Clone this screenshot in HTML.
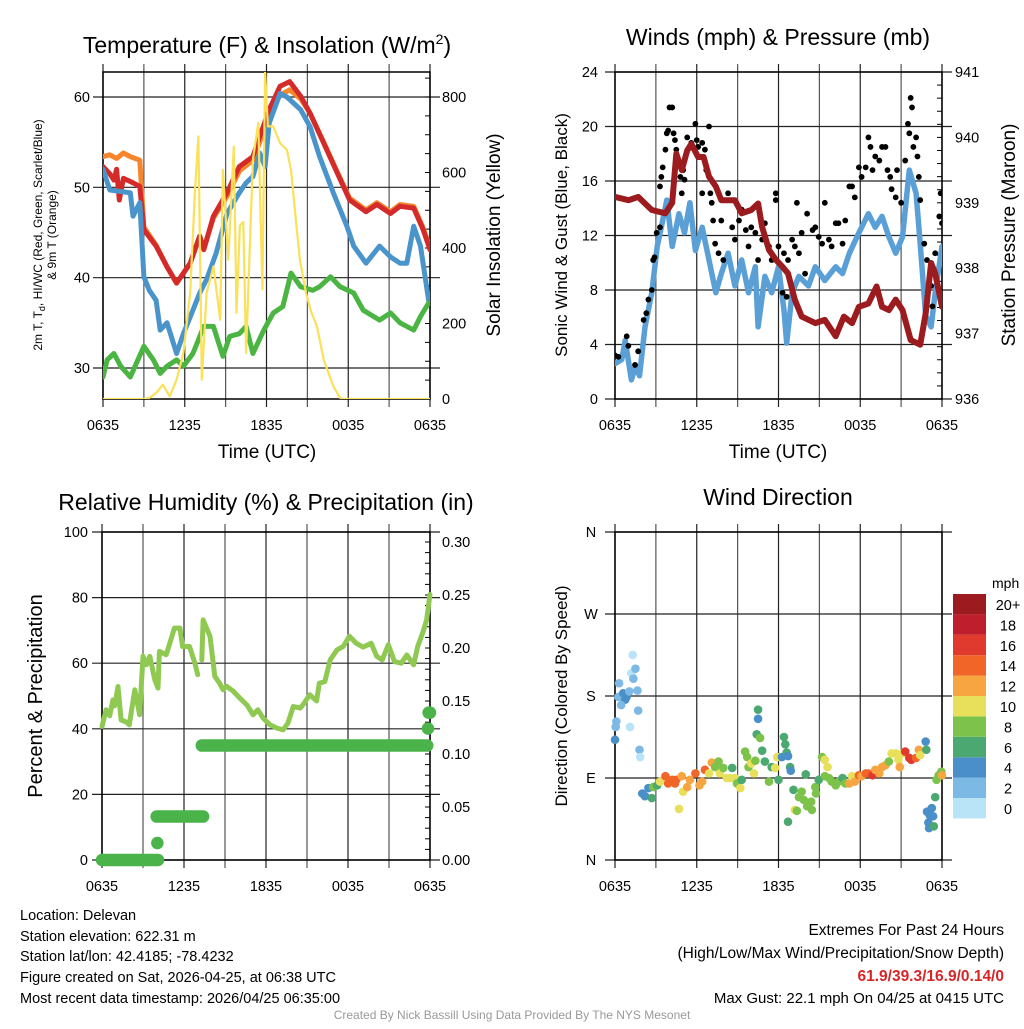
<!DOCTYPE html>
<html><head><meta charset="utf-8"><style>
body{margin:0;background:#fff;}
svg text{font-family:"Liberation Sans",Arial,sans-serif;fill:#000;}
</style></head><body>
<svg id="fig" xmlns="http://www.w3.org/2000/svg" width="1024" height="1024" viewBox="0 0 1024 1024">
<rect x="0" y="0" width="1024" height="1024" fill="#fff"/>
<g id="p1"></g>
<g id="p2"></g>
<g id="p3"></g>
<g id="p4"></g>

<text x="267" y="53" font-size="23" text-anchor="middle">Temperature (F) &amp; Insolation (W/m<tspan font-size="14" dy="-9">2</tspan><tspan dy="9">)</tspan></text>
<text x="778" y="45" font-size="23" text-anchor="middle">Winds (mph) &amp; Pressure (mb)</text>
<text x="266" y="510" font-size="23" text-anchor="middle">Relative Humidity (%) &amp; Precipitation (in)</text>
<text x="778" y="505" font-size="23" text-anchor="middle">Wind Direction</text>

<text x="267" y="458" font-size="19" text-anchor="middle">Time (UTC)</text>
<text x="778" y="458" font-size="19" text-anchor="middle">Time (UTC)</text>
<text transform="translate(42,235) rotate(-90)" font-size="12" text-anchor="middle">2m T, T<tspan font-size="9" dy="3">d</tspan><tspan dy="-3">, HI/WC (Red, Green, Scarlet/Blue)</tspan></text>
<text transform="translate(56,235) rotate(-90)" font-size="12" text-anchor="middle">&amp; 9m T (Orange)</text>
<text transform="translate(500,235) rotate(-90)" font-size="19" text-anchor="middle">Solar Insolation (Yellow)</text>
<text transform="translate(567,235) rotate(-90)" font-size="17" text-anchor="middle">Sonic Wind &amp; Gust (Blue, Black)</text>
<text transform="translate(1015,235) rotate(-90)" font-size="19" text-anchor="middle">Station Pressure (Maroon)</text>
<text transform="translate(42,696) rotate(-90)" font-size="20" text-anchor="middle">Percent &amp; Precipitation</text>
<text transform="translate(567,696) rotate(-90)" font-size="17" text-anchor="middle">Direction (Colored By Speed)</text>

<g font-size="14.5">
<text x="20" y="920">Location: Delevan</text>
<text x="20" y="941">Station elevation: 622.31 m</text>
<text x="20" y="961">Station lat/lon: 42.4185; -78.4232</text>
<text x="20" y="982">Figure created on Sat, 2026-04-25, at 06:38 UTC</text>
<text x="20" y="1003">Most recent data timestamp: 2026/04/25 06:35:00</text>
</g>
<g font-size="15.5" text-anchor="end">
<text x="1004" y="935">Extremes For Past 24 Hours</text>
<text x="1004" y="958">(High/Low/Max Wind/Precipitation/Snow Depth)</text>
<text x="1004" y="981" font-weight="bold" style="fill:#d62728">61.9/39.3/16.9/0.14/0</text>
<text x="1004" y="1003" font-size="15">Max Gust: 22.1 mph On 04/25 at 0415 UTC</text>
</g>
<text x="512" y="1019" font-size="12" text-anchor="middle" style="fill:#999">Created By Nick Bassill Using Data Provided By The NYS Mesonet</text>
</svg>
<script>
// ---- Panel 1 data ----
const redT=[0,0.5,0.8,1.0,1.2,1.5,2.2,2.7,3.0,3.9,4.7,5.4,6.4,7.1,7.4,8.1,9.1,10.0,11.0,11.5,12.2,13.0,13.7,14.5,15.2,16.2,17.1,18.1,19.3,20.1,21.1,21.8,22.8,23.5,24];
const redV=[52.3,51.5,50.8,52.0,48.6,51.0,50.5,50.1,45.3,43.5,41.2,39.4,41.6,44.6,43.1,46.8,49.4,52.3,53.4,55.6,58.6,61.2,61.7,60.1,58.2,54.9,51.9,48.6,47.3,48.1,47.1,47.9,47.7,45.3,43.1];
const orangeT=[0,0.5,1.0,1.5,2.0,2.7,3.0,3.9,4.7,5.4,6.4,7.1,7.4,8.1,9.1,10.0,11.0,11.5,12.2,13.0,13.7,14.5,15.2,16.2,17.1,18.1,19.3,20.1,21.1,21.8,22.8,23.5,24];
const orangeV=[53.4,53.6,53.2,53.8,53.4,53.0,45.6,43.6,41.2,39.4,41.6,44.6,43.2,46.6,49.0,51.8,53.0,55.0,58.0,60.2,60.8,59.8,58.2,55.0,52.0,48.8,47.5,48.3,47.3,48.1,47.9,45.5,43.3];
const blueT=[0,0.5,2.0,2.2,2.7,3.0,3.4,3.9,4.2,4.7,5.4,5.9,6.6,7.1,7.6,8.3,9.1,10.0,10.5,11.0,11.5,11.9,12.2,13.0,13.5,14.5,15.2,15.9,16.9,17.9,18.4,19.3,20.3,21.1,21.8,22.3,22.8,23.3,23.9];
const blueV=[52.0,49.7,49.4,46.8,48.3,40.1,38.6,37.5,34.2,35.0,31.6,33.8,36.4,38.3,39.8,42.7,47.1,49.4,50.5,51.2,53.8,52.3,57.1,60.4,60.0,58.6,56.7,53.4,49.4,45.7,43.5,41.6,43.5,42.3,41.6,41.6,45.7,43.5,37.5];
const greenT=[0,0.3,0.8,1.3,2.0,3.0,3.7,4.2,4.7,5.4,5.9,6.6,7.4,8.1,8.8,9.3,10.0,10.5,11.0,11.8,12.5,13.2,13.8,14.5,15.4,15.9,16.7,17.4,18.4,19.1,20.3,21.1,21.8,22.8,23.3,23.9];
const greenV=[29.0,30.9,31.6,30.2,29.0,32.4,30.9,29.4,30.2,30.9,30.2,31.6,34.6,34.6,31.3,33.5,33.8,34.6,31.6,34.2,36.1,36.8,40.5,39.0,38.6,39.0,40.1,39.0,38.3,36.4,35.3,36.1,35.0,34.2,35.7,37.2];
const solarT=[0,3.0,3.4,3.9,4.4,4.9,5.4,5.9,6.4,6.75,7.0,7.25,7.6,8.1,8.6,8.8,9.2,9.6,9.8,10.05,10.3,10.5,11.0,11.4,11.7,11.9,12.1,12.5,13.0,13.5,13.8,14.2,14.45,14.9,15.3,15.7,16.2,16.9,17.4,17.6,24];
const solarV=[0,0,3,16,38,7,51,122,281,554,696,51,281,351,210,607,369,669,228,460,469,122,634,731,290,868,722,722,678,660,607,457,369,281,228,193,104,34,3,0,0];
const p1Left=[30,40,50,60], p1Right=[0,200,400,600,800];
const timeLabels=["0635","1235","1835","0035","0635"];
// ---- Panel 2 data ----
const windT=[0,0.5,0.75,1.2,1.5,1.8,2.2,2.7,3.1,3.4,3.8,4.2,4.7,5.1,5.5,5.9,6.4,6.9,7.4,7.8,8.3,8.8,9.3,9.8,10.3,10.5,11.0,11.5,12.0,12.4,12.6,13.0,13.5,14.2,14.7,15.4,16.2,16.7,17.2,17.9,18.6,19.1,19.6,20.1,20.6,21.1,21.6,22.1,22.4,22.8,23.2,23.5,24];
const windV=[2.6,2.9,4.3,1.4,2.4,1.7,5.3,7.8,11.2,12.6,14.6,11.2,13.6,12.2,14.4,10.9,12.6,10.2,7.8,9.2,10.7,8.3,10.2,7.8,9.7,5.3,9.0,7.8,9.7,6.5,4.1,7.8,9.0,8.3,9.7,8.7,9.7,9.2,10.7,12.2,13.6,12.6,13.4,11.9,10.7,11.9,16.8,15.1,11.4,6.1,5.3,7.8,11.2];
const presT=[0,1.0,1.7,2.2,2.7,3.7,4.2,4.5,4.9,5.3,5.6,6.1,6.5,6.9,7.4,7.8,8.3,8.8,9.3,10.0,10.5,10.8,11.3,11.8,12.3,12.7,13.2,13.7,14.7,15.4,16.2,16.8,17.4,17.9,18.6,19.2,19.6,20.1,20.6,21.1,21.7,22.4,22.8,23.2,23.5,24];
const presV=[939.09,939.04,939.09,938.99,938.89,938.84,939.0,939.75,939.5,939.8,939.9,939.7,939.7,939.4,939.25,939.04,939.04,939.04,938.84,938.89,938.99,938.63,938.28,938.13,938.02,937.92,937.52,937.26,937.16,937.21,936.96,937.26,937.16,937.41,937.46,937.72,937.41,937.36,937.52,937.36,936.9,936.83,937.31,938.08,937.92,937.41];
const gustT=[0,0.25,0.86,0.98,1.47,1.7,2.1,2.3,2.45,2.7,2.8,2.9,3.06,3.3,3.3,3.4,3.5,3.7,3.8,3.9,4.0,4.2,4.3,4.4,4.5,4.8,4.9,5.0,5.1,5.3,5.6,5.9,6.0,6.1,6.4,6.6,6.9,6.7,6.4,7.0,7.1,7.2,7.35,7.6,7.8,7.95,8.3,8.6,8.8,9.1,9.3,9.6,9.8,10.0,10.3,10.5,10.8,11.0,11.3,11.5,11.8,11.8,12.0,12.3,12.4,12.6,12.7,13.0,13.2,13.35,13.5,13.7,13.95,14.1,14.5,14.7,14.95,15.2,15.4,15.7,15.9,16.2,16.4,16.7,16.9,17.2,17.4,17.6,17.9,18.1,18.4,18.6,18.75,18.9,19.1,19.4,19.6,19.85,20.0,20.2,20.3,20.6,20.7,21.0,21.3,21.5,21.6,21.7,21.8,21.9,22.1,22.2,22.3,22.4,22.7,22.9,23.2,23.3,23.5,23.8,23.9,24];
const gustV=[3.2,3.1,4.6,3.9,2.5,3.5,5.8,6.3,7.3,8.0,10.2,10.4,12.2,12.6,15.6,16.3,17.0,18.3,19.5,19.7,21.4,21.4,19.5,19.0,18.3,16.3,15.1,16.8,16.1,19.2,18.8,20.2,19.0,18.5,18.8,18.3,20.0,16.8,15.1,15.1,14.4,13.1,11.4,10.7,13.1,10.2,15.1,12.6,11.7,13.1,13.9,12.4,11.2,12.6,12.2,10.2,11.7,12.9,11.2,10.2,15.1,14.6,11.2,7.8,10.7,7.5,10.2,11.7,11.2,14.4,10.7,12.2,9.2,13.6,12.4,12.6,11.9,11.4,14.4,11.7,11.2,12.9,12.9,11.4,13.1,15.6,15.6,14.8,17.0,16.3,17.0,19.2,18.5,16.8,17.8,17.5,18.5,18.5,16.8,16.3,15.4,14.8,16.8,14.4,17.5,20.2,19.5,22.1,21.4,18.5,19.2,17.8,16.3,14.6,11.4,10.2,8.3,6.8,10.7,13.4,15.1,12.9];
const p2Left=[0,4,8,12,16,20,24], p2Right=[936,937,938,939,940,941];
// ---- Panel 3 data ----
const rhT=[0,0.3,0.56,0.8,0.93,1.17,1.4,1.8,2.0,2.4,2.75,3.0,3.25,3.5,3.86,4.1,4.2,4.7,4.96,5.3,5.7,5.9,6.4,6.8,7.0,null,7.3,7.4,7.9,8.25,8.6,8.86,9.1,9.6,10.1,10.6,11.05,11.4,11.8,12.3,12.8,13.25,13.6,14.0,14.5,14.7,15.2,15.7,15.9,16.3,16.7,17.2,17.65,18.1,18.6,19.1,19.7,20.1,20.5,20.95,21.4,21.9,22.3,22.8,23.1,23.5,23.75,24];
const rhV=[40.7,45.8,44.0,48.8,47.0,52.9,42.7,42.0,41.2,51.9,44.3,62.1,59.5,62.1,54.9,52.4,63.6,62.6,66.1,70.7,70.7,65.1,65.1,60.0,56.5,null,61.0,73.2,68.2,56.0,53.9,51.9,53.0,51.5,49.3,47.3,44.3,45.8,43.2,41.2,40.2,39.7,41.7,46.8,46.3,47.3,50.4,48.5,53.9,54.4,61.0,64.1,65.1,68.2,66.1,64.9,66.1,62.1,61.0,65.6,60.5,60.0,62.5,59.5,65.1,69.7,73.2,80.9];
const precipStart=[0,4.05,4.0,7.3,23.85,23.9];
const precipEnd=[4.1,4.05,7.4,23.8,23.85,24];
const precipVal=[0,0.016,0.041,0.108,0.124,0.139];
const p3Left=[0,20,40,60,80,100], p3Right=["0.00","0.05","0.10","0.15","0.20","0.25","0.30"];
// ---- Panel 4 data ----
const dirT=[0,0.05,0.1,0.3,0.25,0.5,0.6,0.75,0.85,0.45,1.05,1.2,1.3,1.35,1.5,1.65,1.7,1.1,1.8,1.85,2.0,2.2,2.45,2.7,2.8,3.1,3.3,3.7,3.9,4.2,4.4,4.5,4.7,4.9,5.0,5.3,5.5,5.9,6.2,6.4,6.6,6.9,7.1,7.35,7.6,7.7,7.95,8.2,8.45,8.6,8.8,8.95,9.2,9.3,9.55,9.7,9.8,10.0,10.2,10.3,10.5,10.5,10.4,10.65,10.8,11.0,11.3,11.5,11.75,11.9,12.0,12.25,12.4,12.5,12.6,12.7,12.85,12.9,12.7,13.1,13.2,13.35,13.5,13.7,13.85,14.0,14.1,14.4,14.45,14.7,14.75,14.95,15.2,15.4,15.6,15.4,15.7,15.9,16.2,16.4,16.7,16.9,17.2,17.4,17.6,17.9,18.1,18.4,18.6,18.9,19.1,19.4,19.6,19.85,20.1,20.3,20.6,20.8,20.9,21.1,21.3,21.6,21.75,22.1,22.3,22.4,22.8,22.85,22.9,23.1,23.25,23.0,23.05,23.35,23.4,23.5,23.6,23.75,23.95,24];
const dirV=[132,146,152,194,179,179,183,176,179,170,185,205,225,199,210,186,164,146,121,113,73,70,79,68,80,82,86,92,84,88,84,88,56,92,75,80,88,95,82,86,99,95,107,102,108,95,101,90,90,101,90,84,79,88,119,113,102,106,95,109,165,155,138,134,120,108,86,102,101,113,88,113,135,127,118,114,102,98,42,77,55,54,69,75,66,94,59,64,55,80,73,88,113,110,102,92,90,86,82,86,90,84,84,92,86,93,92,95,95,93,99,95,102,104,108,117,117,110,102,117,119,112,110,112,121,115,130,121,53,49,57,41,35,48,37,69,88,93,97,93];
const dirSpd=[4,3,3,3,3,3,4,4,4,3,2,1,0,2,2,2,2,1,2,1,4,4,4,7,8,7,10,14,14,15,15,14,10,12,10,12,12,15,12,13,15,11,12,9,8,10,8,10,10,7,11,8,10,7,8,8,8,10,10,8,6,4,6,8,6,6,8,6,10,10,6,4,6,6,6,4,6,4,6,6,10,8,8,8,8,6,8,8,8,8,8,6,8,10,10,8,8,8,8,8,6,8,12,10,12,14,12,14,15,16,13,12,12,12,9,10,10,10,12,10,16,17,16,15,13,10,4,6,4,4,4,4,4,4,6,6,8,8,8,12];
const speedColors=["#b9e3f7","#7cb9e5","#4a8fc8","#4aa870","#7dc24b","#e8e05a","#f7a541","#f26529","#e03a2e","#bf1e2d","#9b1b1e"];
const speedLabels=["0","2","4","6","8","10","12","14","16","18","20+"];
const dirLabels=["N","E","S","W","N"], dirTicks=[0,90,180,270,360];

const NS="http://www.w3.org/2000/svg";
function mk(parent,tag,attrs){const e=document.createElementNS(NS,tag);for(const k in attrs)e.setAttribute(k,attrs[k]);parent.appendChild(e);return e;}
function txt(parent,x,y,s,size,anchor){const e=mk(parent,"text",{x:x,y:y,"font-size":size,"text-anchor":anchor});e.textContent=s;return e;}
function tx(P,t){return P.x0+t/24*(P.x1-P.x0);}
function lin(d0,d1,r0,r1){return v=>r0+(v-d0)/(d1-d0)*(r1-r0);}
function frame(g,P,name){
  for(let i=0;i<=8;i++){const x=P.x0+i*(P.x1-P.x0)/8;
    const l=mk(g,"line",{x1:x,x2:x,y1:P.y0-8,y2:P.y1+8,stroke:i%2?"#555":"#222","stroke-width":1.2});
    
    
  }
  timeLabels.forEach((s,i)=>{const t=txt(g,P.x0+i*(P.x1-P.x0)/4,P.y1+31,s,14.5,"middle");
    
    });
}
function hgrid(g,P,y,name){const l=mk(g,"line",{x1:P.x0-10,x2:P.x1+10,y1:y,y2:y,stroke:"#222","stroke-width":1.2});
  
  }
function border(g,P){const r=mk(g,"rect",{x:P.x0,y:P.y0,width:P.x1-P.x0,height:P.y1-P.y0,fill:"none",stroke:"#000","stroke-width":1.5});
  
  }
function minor(g,P,ys){ys.forEach(y=>mk(g,"line",{x1:P.x1,x2:P.x1-5,y1:y,y2:y,stroke:"#000","stroke-width":1}));}
function path(g,T,V,P,ys,color,w,name){let d="",pen=false;
  for(let i=0;i<T.length;i++){if(T[i]===null||V[i]===null){pen=false;continue;}
    d+=(pen?"L":"M")+tx(P,T[i]).toFixed(1)+","+ys(V[i]).toFixed(1);pen=true;}
  const p=mk(g,"path",{d:d,fill:"none",stroke:color,"stroke-width":w,"stroke-linejoin":"round","stroke-linecap":"round"});
  
  return p;}

// Panel 1
(function(){const g=document.getElementById("p1");const P={x0:103,x1:430,y0:72,y1:399};
  const yl=lin(30,60,368,97), yr=lin(0,800,399,97);
  frame(g,P,"p1");
  p1Left.forEach(v=>{hgrid(g,P,yl(v),"p1-hgrid");const t=txt(g,90,yl(v)+5,String(v),14.5,"end");
    
    });
  p1Right.forEach(v=>{const t=txt(g,442,yr(v)+5,String(v),14.5,"start");
    
    });
  const m=[];for(let v=0;v<=875;v+=50)m.push(yr(v));minor(g,P,m);
  border(g,P);
  const cl=mk(g,"clipPath",{id:"c1"});mk(cl,"rect",{x:P.x0,y:P.y0,width:P.x1-P.x0,height:P.y1-P.y0});
  const gg=mk(g,"g",{"clip-path":"url(#c1)"});
  path(gg,orangeT,orangeV,P,yl,"#f5862e",5,"orange-9m-temp-line");
  path(gg,redT,redV,P,yl,"#d42a2a",5,"red-2m-temp-line");
  path(gg,blueT,blueV,P,yl,"#4a94cc",5,"blue-windchill-line");
  path(gg,greenT,greenV,P,yl,"#4bb543",5,"green-dewpoint-line");
  path(gg,solarT,solarV,P,yr,"#fbe05a",2.2,"yellow-insolation-line");
})();
// Panel 2
(function(){const g=document.getElementById("p2");const P={x0:615,x1:942,y0:72,y1:399};
  const yl=lin(0,24,399,72), yr=lin(936,941,399,72);
  frame(g,P,"p2");
  p2Left.forEach(v=>{hgrid(g,P,yl(v),"p2-hgrid");const t=txt(g,598,yl(v)+5,String(v),14.5,"end");
    
    });
  p2Right.forEach(v=>{const t=txt(g,955,yr(v)+5,String(v),14.5,"start");
    
    });
  const m=[];for(let v=936;v<=941.01;v+=0.2)m.push(yr(v));minor(g,P,m);
  border(g,P);
  const cl=mk(g,"clipPath",{id:"c2"});mk(cl,"rect",{x:P.x0,y:P.y0,width:P.x1-P.x0,height:P.y1-P.y0});
  const gg=mk(g,"g",{"clip-path":"url(#c2)"});
  path(gg,windT,windV,P,yl,"#5a9fd6",5.5,"sonic-wind-line");
  for(let i=0;i<gustT.length;i++){const c=mk(gg,"circle",{cx:tx(P,gustT[i]),cy:yl(gustV[i]),r:2.9,fill:"#000"});
    
    }
  path(gg,presT,presV,P,yr,"#9b1b1e",6,"pressure-line");
})();
// Panel 3
(function(){const g=document.getElementById("p3");const P={x0:102,x1:430,y0:532,y1:860};
  const yl=lin(0,100,860,532), yr=lin(0,0.30,860,542);
  frame(g,P,"p3");
  p3Left.forEach(v=>{hgrid(g,P,yl(v),"p3-hgrid");const t=txt(g,88,yl(v)+5,String(v),14.5,"end");
    
    });
  p3Right.forEach(s=>{const t=txt(g,442,yr(parseFloat(s))+5,s,14.5,"start");
    
    });
  const m=[];for(let v=0;v<=0.3001;v+=0.01)m.push(yr(v));minor(g,P,m);
  border(g,P);
  path(g,rhT,rhV,P,yl,"#8fc952",5,"relative-humidity-line");
  for(let i=0;i<precipVal.length;i++){const y=yr(precipVal[i]);
    const l=mk(g,"line",{x1:tx(P,precipStart[i]),x2:tx(P,precipEnd[i]),y1:y,y2:y,stroke:"#4ab44a","stroke-width":12.5,"stroke-linecap":"round"});
    
    }
})();
// Panel 4
(function(){const g=document.getElementById("p4");const P={x0:615,x1:942,y0:532,y1:860};
  const yl=lin(0,360,860,532);
  frame(g,P,"p4");
  dirTicks.forEach((v,i)=>{hgrid(g,P,yl(v),"p4-hgrid");const t=txt(g,591,yl(v)+5,dirLabels[i],14.5,"middle");
    
    });
  border(g,P);
  for(let i=0;i<dirT.length;i++){const k=Math.min(10,Math.floor(dirSpd[i]/2));
    const c=mk(g,"circle",{cx:tx(P,dirT[i]),cy:yl(dirV[i]),r:4.3,fill:speedColors[k]});
    
    }
  const lg=mk(g,"g",{});
  
  
  txt(lg,992,588,"mph",14,"start");
  for(let i=0;i<11;i++){const y=594+(10-i)*20.4;
    mk(lg,"rect",{x:953,y:y,width:33,height:20.4,fill:speedColors[i]});
    txt(lg,1008,y+16,speedLabels[i],14.5,"middle");}
})();
</script>
</body></html>
